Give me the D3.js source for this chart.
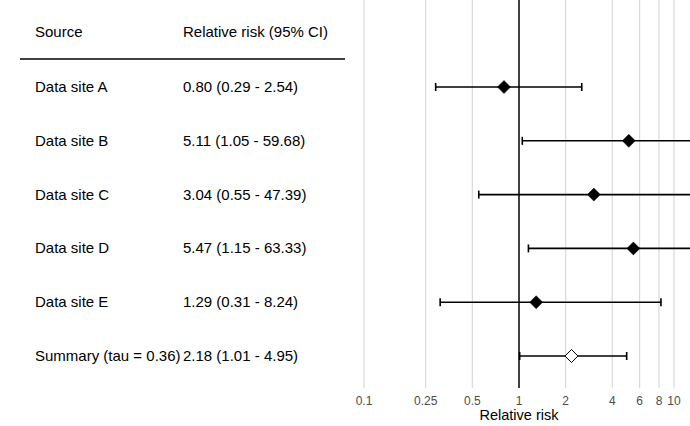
<!DOCTYPE html>
<html><head><meta charset="utf-8">
<script src="https://cdn.jsdelivr.net/npm/d3@7"></script>
<style>body{margin:0;background:#fff}text{font-family:"Liberation Sans",Arial,sans-serif}</style>
</head><body><svg id="c" width="690" height="426"></svg>
<script>
const sources = ["Data site A","Data site B","Data site C","Data site D","Data site E","Summary (tau = 0.36)"];
const estimates = [0.80, 5.11, 3.04, 5.47, 1.29, 2.18];
const lower = [0.29, 1.05, 0.55, 1.15, 0.31, 1.01];
const upper = [2.54, 59.68, 47.39, 63.33, 8.24, 4.95];
const isSummary = [false,false,false,false,false,true];
const tickValues = [0.1, 0.25, 0.5, 1, 2, 4, 6, 8, 10];
const tickLabels = ["0.1","0.25","0.5","1","2","4","6","8","10"];

const svg = d3.select("#c");
const x = d3.scaleLog().domain([0.1, 10]).range([364, 674]);
const y = d3.scalePoint().domain(sources).range([87, 356]);

svg.append("defs").append("clipPath").attr("id","clip")
  .append("rect").attr("x",350).attr("y",0).attr("width",340).attr("height",390);

svg.append("g").selectAll("line").data(tickValues.filter(d=>d!==1)).join("line")
  .attr("x1",d=>x(d)).attr("x2",d=>x(d)).attr("y1",0).attr("y2",388)
  .attr("stroke","#d9d9d9").attr("stroke-width",1.2);
svg.append("line").attr("x1",x(1)).attr("x2",x(1)).attr("y1",0).attr("y2",388)
  .attr("stroke","#000").attr("stroke-width",1.5);

svg.append("g").selectAll("text").data(tickValues).join("text")
  .attr("x",d=>x(d)).attr("y",405).attr("text-anchor","middle")
  .attr("font-size",12).attr("fill","#4d4d4d").text((d,i)=>tickLabels[i]);
svg.append("text").attr("x",x(1)).attr("y",420).attr("text-anchor","middle")
  .attr("font-size",14.5).attr("fill","#000").text("Relative risk");

const g = svg.append("g").attr("clip-path","url(#clip)");
const rows = g.selectAll("g.row").data(sources).join("g").attr("class","row");
rows.append("line").attr("x1",(d,i)=>x(lower[i])).attr("x2",(d,i)=>x(upper[i]))
  .attr("y1",d=>y(d)).attr("y2",d=>y(d)).attr("stroke","#000").attr("stroke-width",1.6);
rows.append("line").attr("x1",(d,i)=>x(lower[i])).attr("x2",(d,i)=>x(lower[i]))
  .attr("y1",d=>y(d)-4).attr("y2",d=>y(d)+4).attr("stroke","#000").attr("stroke-width",1.6);
rows.append("line").attr("x1",(d,i)=>x(upper[i])).attr("x2",(d,i)=>x(upper[i]))
  .attr("y1",d=>y(d)-4).attr("y2",d=>y(d)+4).attr("stroke","#000").attr("stroke-width",1.6);
rows.append("path")
  .attr("d",(d,i)=>{const cx=x(estimates[i]), cy=y(d), r=6.5;
    return `M${cx},${cy-r}L${cx+r},${cy}L${cx},${cy+r}L${cx-r},${cy}Z`;})
  .attr("fill",(d,i)=>isSummary[i]?"#fff":"#000")
  .attr("stroke","#000").attr("stroke-width",(d,i)=>isSummary[i]?1:0.5);

svg.append("text").attr("x",35).attr("y",37).attr("font-size",15).text("Source");
svg.append("text").attr("x",183).attr("y",37).attr("font-size",15).text("Relative risk (95% CI)");
svg.append("line").attr("x1",20).attr("x2",345).attr("y1",59).attr("y2",59)
  .attr("stroke","#000").attr("stroke-width",1.5);
const fmt = d3.format(".2f");
svg.append("g").selectAll("text").data(sources).join("text")
  .attr("x",35).attr("y",d=>y(d)+5).attr("font-size",15).text(d=>d);
svg.append("g").selectAll("text").data(sources).join("text")
  .attr("x",183).attr("y",d=>y(d)+5).attr("font-size",15)
  .text((d,i)=>`${fmt(estimates[i])} (${fmt(lower[i])} - ${fmt(upper[i])})`);
</script></body></html>
